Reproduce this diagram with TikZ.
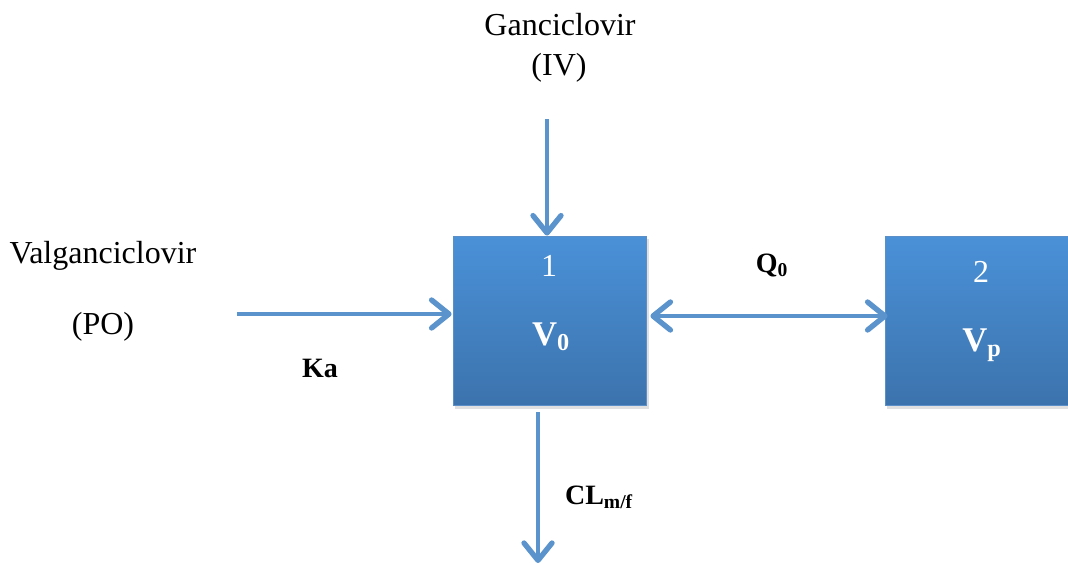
\documentclass[tikz,border=0pt]{standalone}
\usepackage{fontspec}
\setmainfont{Liberation Serif}
\usetikzlibrary{arrows.meta,calc}
\definecolor{arrowblue}{HTML}{5B93CC}
\definecolor{boxtop}{HTML}{4A91D8}
\definecolor{boxbot}{HTML}{3C73AD}
\definecolor{boxedge}{HTML}{5A8FC8}
\tikzset{
  comp/.style={rectangle, minimum width=144.75pt, minimum height=126.75pt, inner sep=0pt,
    top color=boxtop, bottom color=boxbot, draw=boxedge, line width=0.6pt},
  shade box/.style={fill=black, opacity=0.12},
  barbtip/.tip={Straight Barb[length=13pt,width=21pt,line width=4pt,round]},
  flow/.style={draw=arrowblue, line width=3.6pt, -{barbtip}},
  biflow/.style={draw=arrowblue, line width=3.6pt, {barbtip}-{barbtip}},
  lbl/.style={font=\fontsize{24}{28}\selectfont, inner sep=0pt},
  blbl/.style={font=\fontsize{21}{25}\selectfont\bfseries, inner sep=0pt},
  inbox/.style={font=\fontsize{24}{28}\selectfont, text=white, inner sep=0pt},
  inboxb/.style={font=\fontsize{26}{30}\selectfont\bfseries, text=white, inner sep=0pt}
}
\begin{document}
\begin{tikzpicture}[x=0.75pt,y=-0.75pt]
\useasboundingbox (0,0) rectangle (1068,569);
\clip (0,0) rectangle (1068,569);
\fill[white] (0,0) rectangle (1068,569);
% shadows
\fill[shade box] (455,239) rectangle (649,409);
\fill[shade box] (887,239) rectangle (1080,409);
% compartments
\node[comp] (b1) at (549.5,320.5) {};
\node[comp] (b2) at (981.5,320.5) {};
\node[inbox] (n1) at (549,266) {1};
\node[inboxb] (v0) at (551,337) {V\textsubscript{0}};
\node[inbox] (n2) at (981,272) {2};
\node[inboxb] (vp) at (982,345) {V\textsubscript{p}};
% labels
\node[lbl] (gan) at (560,25) {Ganciclovir};
\node[lbl] (iv) at (559,68) {(IV)};
\node[lbl] (val) at (103,256) {Valganciclovir};
\node[lbl] (po) at (103,327) {(PO)};
\node[blbl] (ka) at (320,368) {Ka};
\node[blbl] (q0) at (772,265) {Q\textsubscript{0}};
\node[blbl] (cl) at (599,497) {CL\textsubscript{m/f}};
% connectors
\coordinate (ivs) at (547,119);
\coordinate (kas) at (237,314);
\coordinate (cle) at (538,563);
\draw[flow] (ivs) -- (ivs |- b1.north);
\draw[flow] (kas) -- ($(kas -| b1.west)+(-1,0)$);
\draw[biflow] ($(b1.east)+(4,-4.5)$) -- ($(b2.west)+(3,-4.5)$);
\draw[flow] ($(cle |- b1.south)+(0,7)$) -- (cle);
\end{tikzpicture}
\end{document}
